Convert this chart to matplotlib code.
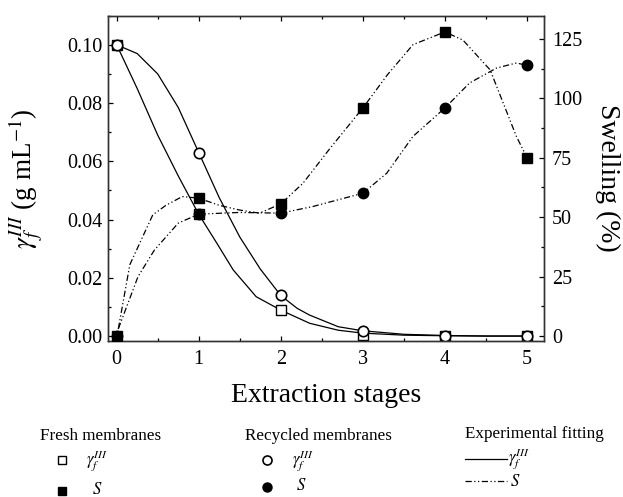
import matplotlib
matplotlib.use("Agg")
import matplotlib.pyplot as plt
from matplotlib.ticker import MultipleLocator
from matplotlib.lines import Line2D

plt.rcParams['font.family'] = ['Liberation Serif', 'DejaVu Serif']
plt.rcParams['mathtext.fontset'] = 'stix'

# ---- data ----
stages = [0, 1, 2, 3, 4, 5]
fresh_gamma = [0.100, 0.0418, 0.0089, 0.0003, 0.0, 0.0]
recycled_gamma = [0.100, 0.063, 0.0140, 0.0018, 0.0, 0.0]
fresh_swelling = [0.0, 57.9, 55.6, 96.0, 128.0, 75.0]
recycled_swelling = [0.0, 51.3, 51.7, 60.1, 96.0, 113.9]

# fitted curves
fit_fresh_gamma_x = [0, 0.25, 0.5, 0.75, 1.0, 1.22, 1.42, 1.70, 2.0, 2.35, 2.7, 3.0, 3.5, 4.0, 4.5, 5.0]
fit_fresh_gamma_y = [0.100, 0.085, 0.069, 0.055, 0.0418, 0.0319, 0.0227, 0.0135, 0.0089, 0.0044, 0.0020,
                     0.0010, 0.0003, 0.0001, 0.0, 0.0]
fit_rec_gamma_x = [0, 0.25, 0.5, 0.75, 1.0, 1.25, 1.5, 1.75, 2.0, 2.2, 2.35, 2.7, 3.0, 3.5, 4.0, 4.5, 5.0]
fit_rec_gamma_y = [0.100, 0.097, 0.090, 0.0785, 0.063, 0.0475, 0.034, 0.023, 0.0139, 0.0095, 0.0072, 0.0032,
                   0.0018, 0.0006, 0.0002, 0.0, 0.0]
fit_fresh_sw_x = [0.02, 0.16, 0.44, 0.6, 0.8, 1.0, 1.25, 1.5, 1.74, 2.0, 2.27, 2.6, 3.0, 3.3, 3.61, 4.0,
                  4.22, 4.55, 4.87, 5.0]
fit_fresh_sw_y = [3, 30, 51, 55, 58.7, 58, 55, 53, 51.7, 55.6, 64.3, 79, 96, 110, 122.6, 128,
                  124.5, 112, 84, 75]
fit_rec_sw_x = [0.02, 0.26, 0.46, 0.75, 1.0, 1.5, 2.0, 2.39, 3.0, 3.29, 3.61, 4.0, 4.3, 4.63, 4.87, 5.0]
fit_rec_sw_y = [3, 25, 36.2, 47.5, 51.3, 52, 51.7, 54.5, 60.1, 68.5, 84, 96, 106.5, 112.8, 114.9, 113.9]

xticks = [0, 1, 2, 3, 4, 5]
left_ticks = [0.00, 0.02, 0.04, 0.06, 0.08, 0.10]
right_ticks = [0, 25, 50, 75, 100, 125]

W, H = 623, 497
fig = plt.figure(figsize=(W / 100, H / 100), dpi=100)
ax = fig.add_axes([108.3 / W, 1 - 341 / H, 436 / W, 325.3 / H])
ax2 = ax.twinx()

dashdotdot = (0, (5, 2, 1, 2, 1, 2))
lw_fit = 0.9

# gamma (left axis)
ax.plot(fit_fresh_gamma_x, fit_fresh_gamma_y, color='black', lw=lw_fit, zorder=2)
ax.plot(fit_rec_gamma_x, fit_rec_gamma_y, color='black', lw=lw_fit, zorder=2)
ax.plot(stages, fresh_gamma, linestyle='none', marker='s', ms=6.5, mfc='white', mec='black', mew=1.0, zorder=3)
ax.plot(stages, recycled_gamma, linestyle='none', marker='o', ms=7.5, mfc='white', mec='black', mew=1.2, zorder=4)

# swelling (right axis)
ax2.plot(fit_fresh_sw_x, fit_fresh_sw_y, color='black', lw=lw_fit, linestyle=dashdotdot, zorder=2)
ax2.plot(fit_rec_sw_x, fit_rec_sw_y, color='black', lw=lw_fit, linestyle=dashdotdot, zorder=2)
ax2.plot(stages, recycled_swelling, linestyle='none', marker='o', ms=7.5, mfc='black', mec='black', zorder=3)
ax2.plot(stages, fresh_swelling, linestyle='none', marker='s', ms=6.5, mfc='black', mec='black', zorder=4)

ax.set_xlim(-0.102, 5.21)
ax.set_ylim(-0.0017, 0.110)
ax2.set_ylim(-2.1, 134.8)

ax.set_xticks(xticks)
ax.set_yticks(left_ticks)
ax.set_yticklabels(['%.2f' % v for v in left_ticks])
ax2.set_yticks(right_ticks)
ax.xaxis.set_minor_locator(MultipleLocator(0.5))
ax.yaxis.set_minor_locator(MultipleLocator(0.01))
ax2.yaxis.set_minor_locator(MultipleLocator(12.5))

tick_fs = 14.5
ax.tick_params(axis='x', which='both', direction='in', top=True, bottom=True, labelsize=tick_fs, pad=6.5)
ax.tick_params(axis='y', which='both', direction='in', left=True, right=False, labelsize=tick_fs, pad=4.5)
ax.tick_params(which='major', length=3.6, width=0.9)
ax.tick_params(which='minor', length=2.2, width=0.9)
ax2.tick_params(axis='y', which='both', direction='in', right=True, labelsize=tick_fs, pad=5.5)
ax2.tick_params(which='major', length=3.6, width=0.9)
ax2.tick_params(which='minor', length=2.2, width=0.9)
for a in (ax, ax2):
    for s in a.spines.values():
        s.set_linewidth(1.0)
        s.set_color('#333333')

ax.set_xlabel('Extraction stages', fontsize=20)
ax.xaxis.set_label_coords(0.5, -0.128)
ax.set_ylabel(r'$\gamma_f^{III}$ (g mL$^{-1}$)', fontsize=19.5)
ax.yaxis.set_label_coords(-0.145, 0.5)
ax2.set_ylabel('Swelling (%)', fontsize=20, rotation=270, va='bottom')
ax2.yaxis.set_label_coords(1.117, 0.5)

# ---- legend block below the plot ----
lax = fig.add_axes([0, 0, 1, 1])
lax.set_xlim(0, W)
lax.set_ylim(H, 0)
lax.axis('off')
lfs = 12.3
mfs = 12.0
lax.text(40, 436, 'Fresh membranes', fontsize=lfs, ha='left', va='center')
lax.text(245, 436, 'Recycled membranes', fontsize=lfs, ha='left', va='center')
lax.text(465, 434, 'Experimental fitting', fontsize=lfs, ha='left', va='center')

lax.add_line(Line2D([61.7], [460], marker='s', ms=5.5, mfc='white', mec='black', mew=1.0, linestyle='none'))
lax.text(86, 461, r'$\gamma_f^{III}$', fontsize=mfs, ha='left', va='center')
lax.add_line(Line2D([61.7], [490.5], marker='s', ms=5.5, mfc='black', mec='black', linestyle='none'))
lax.text(92, 490.5, r'$S$', fontsize=mfs, ha='left', va='center')

lax.add_line(Line2D([266.7], [460], marker='o', ms=6.5, mfc='white', mec='black', mew=1.2, linestyle='none'))
lax.text(292, 461, r'$\gamma_f^{III}$', fontsize=mfs, ha='left', va='center')
lax.add_line(Line2D([266.7], [486.5], marker='o', ms=6.5, mfc='black', mec='black', linestyle='none'))
lax.text(296, 486.5, r'$S$', fontsize=mfs, ha='left', va='center')

lax.add_line(Line2D([465, 506.7], [459.3, 459.3], color='black', lw=0.9))
lax.text(508, 458.5, r'$\gamma_f^{III}$', fontsize=mfs, ha='left', va='center')
lax.add_line(Line2D([465, 506.7], [481, 481], color='black', lw=0.9, linestyle=dashdotdot))
lax.text(510, 482.5, r'$S$', fontsize=mfs, ha='left', va='center')

fig.savefig('out.png', dpi=100)
